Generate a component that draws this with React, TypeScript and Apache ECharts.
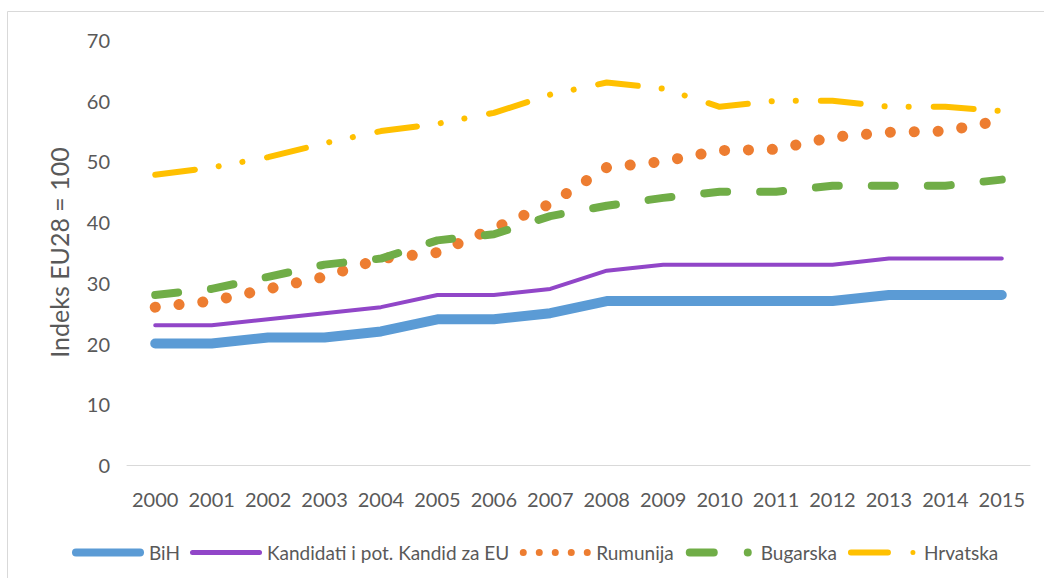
import React, { useEffect, useRef } from "react";
import * as echarts from "echarts";

const years = ["2000","2001","2002","2003","2004","2005","2006","2007","2008","2009","2010","2011","2012","2013","2014","2015"];
const bih = [20,20,21,21,22,24,24,25,27,27,27,27,27,28,28,28];
const kandidati = [23,23,24,25,26,28,28,29,32,33,33,33,33,34,34,34];
const rumunija = [26,27,29,31,34,35,39,43,49,50,51.8,52,54,54.8,55,56.8];
const bugarska = [28,29,31,33,34,37,38,41,42.7,44,45,45,46,46,46,47];
const hrvatska = [47.8,49,50.7,53,55,56.2,58,61,63,62,59,60,60,59,59,58.3];
const seriesNames = ["BiH", "Kandidati i pot. Kandid za EU", "Rumunija", "Bugarska", "Hrvatska"];
const yTicks = { min: 0, max: 70, interval: 10 };

const FONT = "Lato";
const TEXT = "#595959";

const circ = (cx: number, cy: number, r: number) =>
  `M${cx - r},${cy} A${r},${r} 0 1 0 ${cx + r},${cy} A${r},${r} 0 1 0 ${cx - r},${cy} Z`;
const bar = (x1: number, x2: number, cy: number, h: number) => {
  const r = h / 2;
  return `M${x1 + r},${cy - r} H${x2 - r} A${r},${r} 0 0 1 ${x2 - r},${cy + r} H${x1 + r} A${r},${r} 0 0 1 ${x1 + r},${cy - r} Z`;
};
const ANCHOR = "M0,0 M72,10 ";
const icons = [
  "path://" + ANCHOR + bar(0, 72, 5, 8),
  "path://" + ANCHOR + bar(0, 72, 5, 5),
  "path://" + ANCHOR + circ(4, 5, 3.5) + circ(20, 5, 3.5) + circ(36, 5, 3.5) + circ(52, 5, 3.5) + circ(68, 5, 3.5),
  "path://" + ANCHOR + bar(2, 34, 5, 8) + circ(64, 5, 4),
  "path://" + ANCHOR + bar(1, 44, 5, 6) + circ(66, 5, 2.5),
];

export default function App() {
  const ref = useRef<HTMLDivElement>(null);
  useEffect(() => {
    if (!ref.current) return;
    const chart = echarts.init(ref.current, null, { renderer: "svg" });
    const colors = ["#5B9BD5", "#9146C8", "#ED7D31", "#70AD47", "#FFC000"];
    const styles: any[] = [
      { width: 10, type: "solid", cap: "round", join: "round" },
      { width: 4, type: "solid", cap: "round", join: "round" },
      { width: 11, type: [0.1, 23.8], cap: "round", join: "round" },
      { width: 8, type: [23, 33], cap: "round", join: "round" },
      { width: 6, type: [40, 24, 0.1, 24, 0.1, 25], cap: "round", join: "round" },
    ];
    const datas = [bih, kandidati, rumunija, bugarska, hrvatska];
    chart.setOption({
      animation: false,
      color: colors,
      grid: { left: 127, right: 14, top: 40, bottom: 113, containLabel: false },
      graphic: [
        {
          type: "rect",
          shape: { x: 7.5, y: 11.5, width: 1100, height: 600 },
          style: { fill: "none", stroke: "#d9d9d9", lineWidth: 1 },
          silent: true,
        },
      ],
      legend: {
        left: 67,
        top: 538,
        itemWidth: 72,
        itemHeight: 10,
        itemGap: 10,
        textStyle: { color: TEXT, fontFamily: FONT, fontSize: 19 },
        data: seriesNames.map((n, i) => ({ name: n, icon: icons[i], itemStyle: { color: colors[i], borderWidth: 0 } })),
      },
      xAxis: {
        type: "category",
        data: years,
        boundaryGap: true,
        axisLine: { lineStyle: { color: "#d9d9d9", width: 1 } },
        axisTick: { show: false },
        axisLabel: { color: TEXT, fontFamily: FONT, fontSize: 20, margin: 24, interval: 0 },
      },
      yAxis: {
        type: "value",
        min: yTicks.min,
        max: yTicks.max,
        interval: yTicks.interval,
        name: "Indeks EU28 = 100",
        nameLocation: "middle",
        nameGap: 56,
        nameTextStyle: { color: TEXT, fontFamily: FONT, fontSize: 25 },
        axisLine: { show: false },
        axisTick: { show: false },
        splitLine: { show: false },
        axisLabel: { color: TEXT, fontFamily: FONT, fontSize: 20, margin: 17 },
      },
      series: datas.map((d, i) => ({
        name: seriesNames[i],
        type: "line",
        data: d,
        showSymbol: false,
        symbol: "none",
        lineStyle: { color: colors[i], ...styles[i] },
        itemStyle: { color: colors[i] },
      })),
    });
    return () => chart.dispose();
  }, []);
  return <div ref={ref} style={{ position: "absolute", left: 0, top: 0, width: 1044, height: 578 }} />;
}
